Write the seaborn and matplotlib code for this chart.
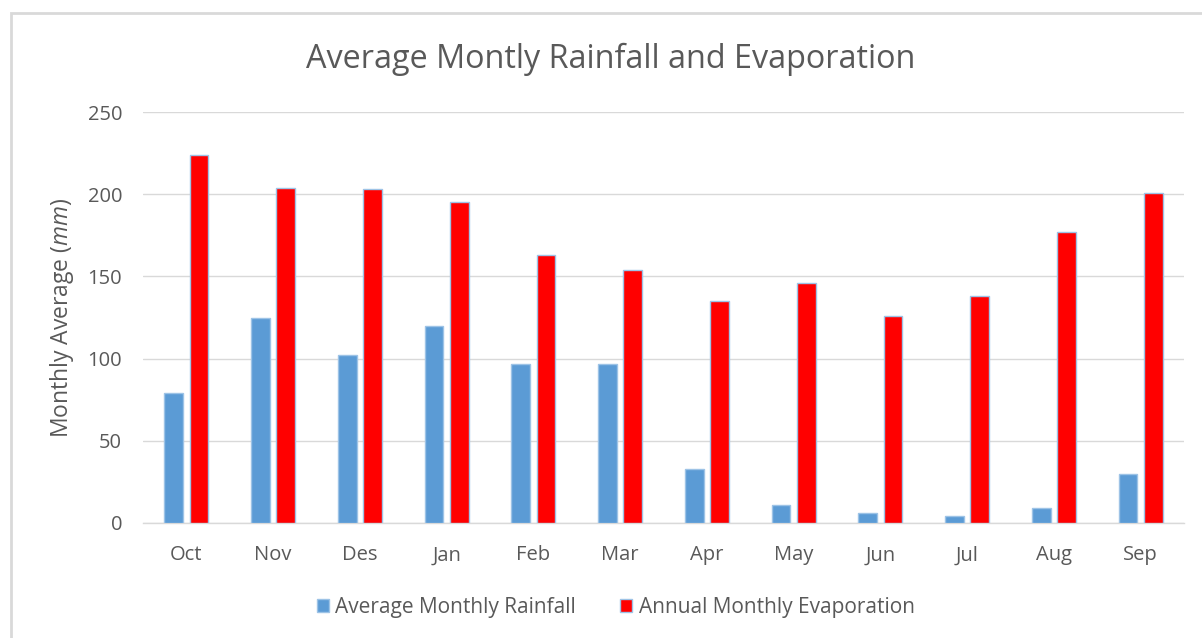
import matplotlib
matplotlib.use("Agg")
import matplotlib.pyplot as plt
import seaborn as sns
import pandas as pd
from matplotlib.patches import Rectangle

months = ["Oct", "Nov", "Des", "Jan", "Feb", "Mar", "Apr", "May", "Jun", "Jul", "Aug", "Sep"]
rainfall = [79, 125, 102, 120, 97, 97, 33, 11, 6, 4, 9, 30]
evaporation = [224, 204, 203, 195, 163, 154, 135, 146, 126, 138, 177, 201]
series_names = ["Average Monthly Rainfall", "Annual Monthly Evaporation"]
yticks = [0, 50, 100, 150, 200, 250]

sns.set_theme(style="white")
plt.rcParams["font.family"] = ["Open Sans", "DejaVu Sans"]
plt.rcParams["mathtext.fontset"] = "custom"
plt.rcParams["mathtext.rm"] = "Open Sans"
plt.rcParams["mathtext.it"] = "Open Sans:italic"

df = pd.DataFrame({
    "Month": months * 2,
    "Value": rainfall + evaporation,
    "Series": [series_names[0]] * len(months) + [series_names[1]] * len(months),
})

text_color = "#595959"
grid_color = "#D9D9D9"

fig = plt.figure(figsize=(12.02, 6.38), dpi=100)
ax = fig.add_axes([143 / 1202, 1 - 523 / 638, 1041 / 1202, 411 / 638])

sns.barplot(data=df, x="Month", y="Value", hue="Series", order=months,
            hue_order=series_names, palette=["#5B9BD5", "#FF0000"],
            saturation=1, width=0.58, gap=0.25, edgecolor="#9DC3E6",
            linewidth=1, errorbar=None, ax=ax, zorder=3)

ax.set_ylim(0, 250)
ax.set_yticks(yticks)
ax.set_xlim(-0.5, len(months) - 0.5)
ax.yaxis.grid(True, color=grid_color, linewidth=1, zorder=0)
ax.set_axisbelow(True)
for side in ["top", "right", "left"]:
    ax.spines[side].set_visible(False)
ax.spines["bottom"].set_color(grid_color)
ax.spines["bottom"].set_linewidth(1)
ax.tick_params(axis="both", length=0, labelsize=14.5, colors=text_color)
ax.tick_params(axis="x", pad=16)
ax.tick_params(axis="y", pad=15)

ax.set_xlabel("")
ax.set_ylabel(r"Monthly Average ($\mathit{mm}$)", fontsize=16.5, color=text_color, labelpad=8)

fig.text(611 / 1202, 1 - 59 / 638, "Average Montly Rainfall and Evaporation",
         fontsize=23.3, color=text_color, ha="center", va="center")

handles, labels = ax.get_legend_handles_labels()
ax.legend(handles, labels, loc="center", bbox_to_anchor=(0.454, -0.205), ncol=2,
          frameon=False, fontsize=15, handlelength=0.6, handleheight=0.6,
          handletextpad=0.3, columnspacing=2.1, labelcolor=text_color)

fig.patches.append(Rectangle((11 / 1202, -0.1), 1.2, 1 - 13 / 638 + 0.1,
                             transform=fig.transFigure, fill=False,
                             edgecolor=grid_color, linewidth=2))

fig.savefig("out.png", dpi=100)
